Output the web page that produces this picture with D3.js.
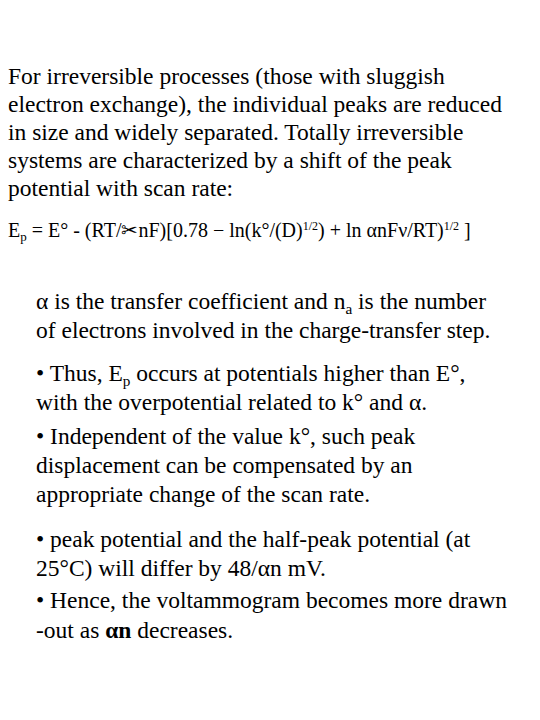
<!DOCTYPE html>
<html><head><meta charset="utf-8">
<script src="https://cdn.jsdelivr.net/npm/d3@7"></script>
<style>body{margin:0;background:#fff}</style></head>
<body><svg id="c" width="540" height="720"></svg>
<script>
const introLines = [
  [["For irreversible processes (those with sluggish",""]],
  [["electron exchange), the individual peaks are reduced",""]],
  [["in size and widely separated. Totally irreversible",""]],
  [["systems are characterized by a shift of the peak",""]],
  [["potential with scan rate:",""]]
];
const equation = [["E",""],["p","sub"],[" = E° - (RT/✂nF)[0.78 − ln(k°/(D)",""],["1/2","sup"],[") + ln αnFν/RT)",""],["1/2","sup"],[" ]",""]];
const bullets = [
  [[["α is the transfer coefficient and n",""],["a","sub"],[" is the number",""]],
   [["of electrons involved in the charge-transfer step.",""]]],
  [[["• Thus, E",""],["p","sub"],[" occurs at potentials higher than E°,",""]],
   [["with the overpotential related to k° and α.",""]]],
  [[["• Independent of the value k°, such peak",""]],
   [["displacement can be compensated by an",""]],
   [["appropriate change of the scan rate.",""]]],
  [[["• peak potential and the half-peak potential (at",""]],
   [["25°C) will differ by 48/αn mV.",""]]],
  [[["• Hence, the voltammogram becomes more drawn",""]],
   [["-out as ",""],["αn","b"],[" decreases.",""]]]
];
const introY = [84,112,140,168,196];
const bulletY = [[309,338],[381,410],[444,473,502],[547,576],[608,638]];
const svg = d3.select("#c");
function line(segs, x, y, size){
  const t = svg.append("text").attr("x",x).attr("y",y)
    .attr("font-family","Liberation Serif, Times New Roman, serif").attr("font-size",size).attr("fill","#000");
  segs.forEach(([s,st])=>{
    const sp = t.append("tspan").text(s);
    if(st==="sub") sp.attr("font-size",size*0.65).attr("dy",size*0.2).attr("data-st",st);
    if(st==="sup") sp.attr("font-size",size*0.6).attr("dy",-size*0.35).attr("data-st",st);
    if(st==="b") sp.attr("font-weight","bold");
  });
  let acc=0;
  t.selectAll("tspan").each(function(){
    const el=d3.select(this); const st=el.attr("data-st");
    if(st){ acc += +el.attr("dy"); }
    else if(acc!==0){ el.attr("dy",-acc); acc=0; }
  });
}
introLines.forEach((l,i)=>line(l,8,introY[i],23.5));
line(equation,8,237,20);
bullets.forEach((b,i)=>b.forEach((l,j)=>line(l,36,bulletY[i][j],23.5)));
</script></body></html>
